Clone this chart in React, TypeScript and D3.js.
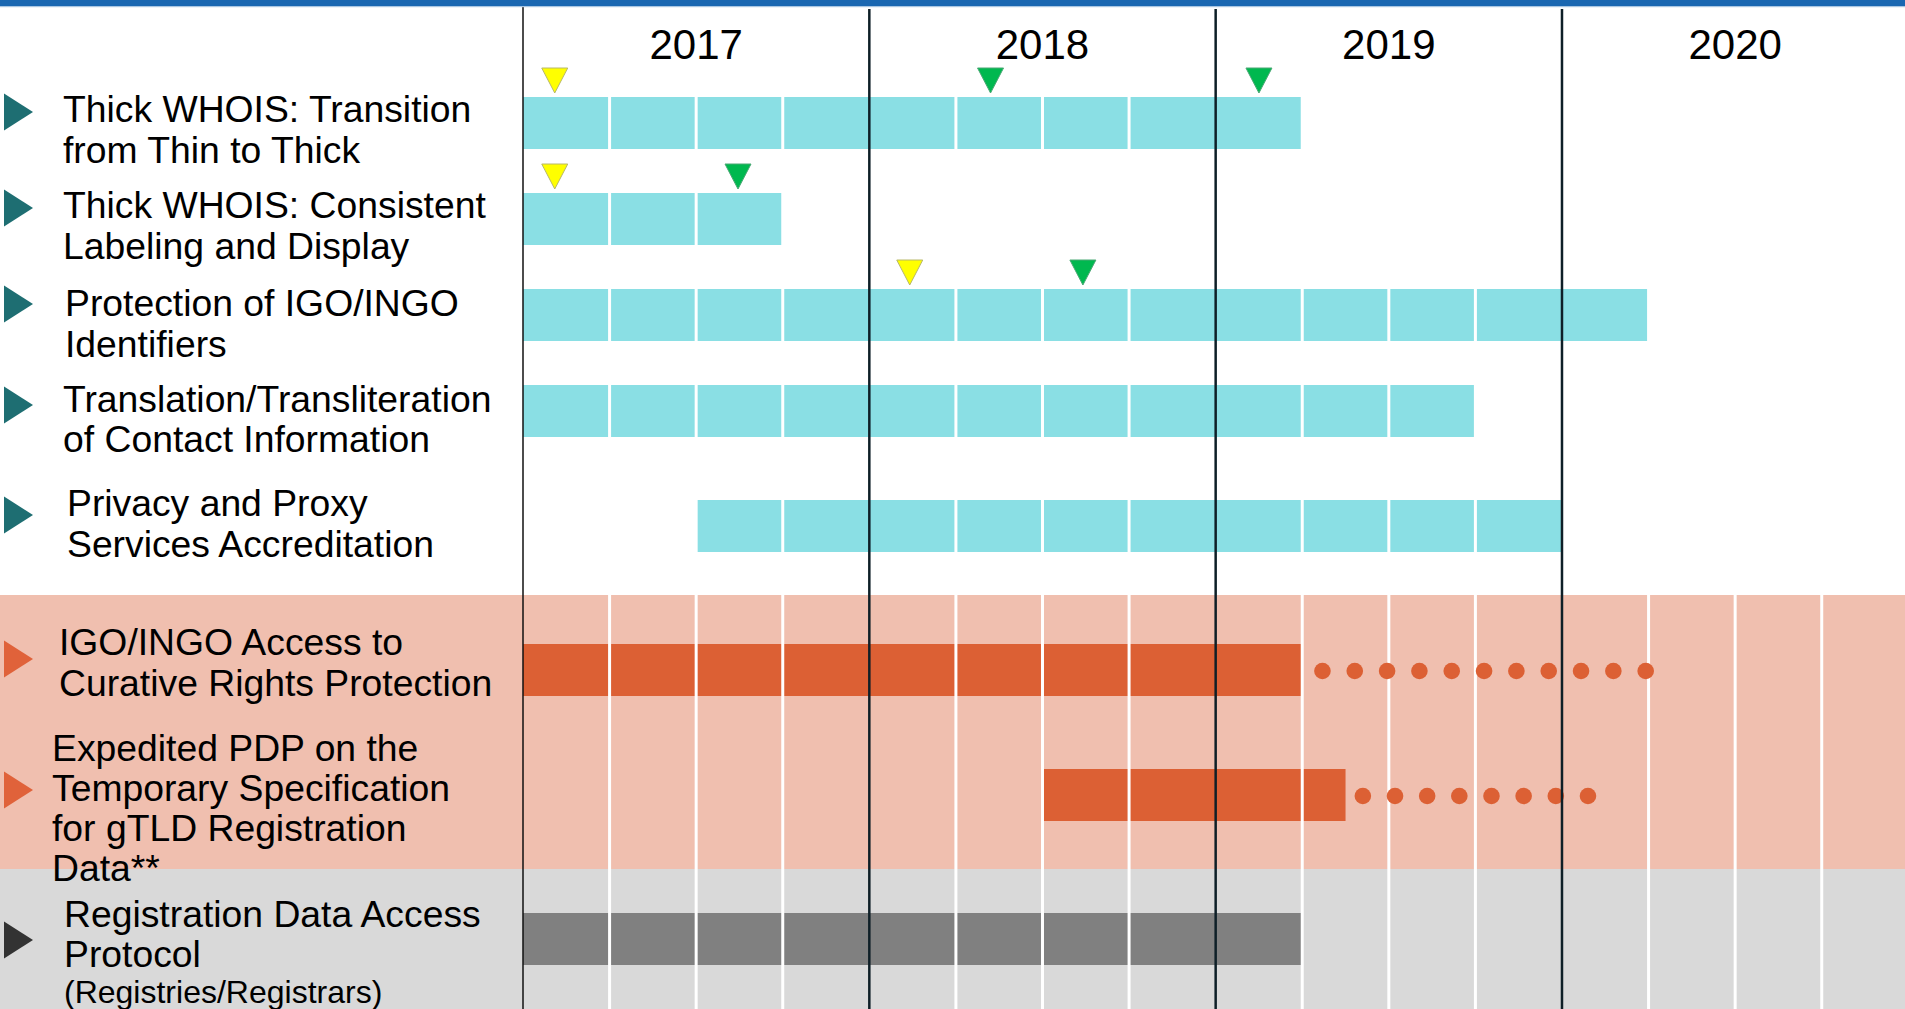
import React from "react";
import * as d3 from "d3";

// ---------- DATA ----------
const years = ["2017", "2018", "2019", "2020"];
const taskLabels: string[][] = [
  ["Thick WHOIS: Transition", "from Thin to Thick"],
  ["Thick WHOIS: Consistent", "Labeling and Display"],
  ["Protection of IGO/INGO", "Identifiers"],
  ["Translation/Transliteration", "of Contact Information"],
  ["Privacy and Proxy", "Services Accreditation"],
  ["IGO/INGO Access to", "Curative Rights Protection"],
  ["Expedited PDP on the", "Temporary Specification", "for gTLD Registration", "Data**"],
  ["Registration Data Access", "Protocol"],
];
const taskSubLabels = ["", "", "", "", "", "", "", "(Registries/Registrars)"];
const taskGroup = ["impl", "impl", "impl", "impl", "impl", "pdp", "pdp", "rdap"];
// months since Jan 2017
const taskStart = [0, 0, 0, 0, 6, 0, 18, 0];
const taskEnd = [27, 9, 39, 33, 36, 27, 28.5, 27];
// dotted continuation (months) and count
const dotFrom = [null, null, null, null, null, 27.7, 29.1, null];
const dotTo = [null, null, null, null, null, 38.9, 36.9, null];
const dotCount = [0, 0, 0, 0, 0, 11, 8, 0];
// milestones
const milestoneRow = [0, 0, 0, 1, 1, 2, 2];
const milestoneMonth = [1.1, 16.2, 25.5, 1.1, 7.45, 13.4, 19.4];
const milestoneType = ["yellow", "green", "green", "yellow", "green", "yellow", "green"];

// ---------- LAYOUT / STYLE ----------
const W = 1905;
const H = 1009;
const chartLeft = 523;
const yearW = 346.33;
const barH = 52;
const rowBarTop = [97, 193, 289, 385, 500, 644, 769, 913];
const labelBaseline = [122, 218, 316, 412, 516, 655, 761, 927];
const labelX = [63, 63, 65, 63, 67, 59, 52, 64];
const lineH = [41, 41, 41, 40, 41, 41, 40, 40];
const bulletCY = [112, 208, 304, 405, 515, 659, 790, 940];

const groupBar: Record<string, string> = { impl: "#8adfe4", pdp: "#dc6034", rdap: "#808080" };
const groupBullet: Record<string, string> = { impl: "#1e6e72", pdp: "#e0623a", rdap: "#333333" };
const mFill: Record<string, string> = { yellow: "#ffff00", green: "#00b84f" };
const mStroke: Record<string, string> = { yellow: "#b8b86a", green: "#4aa874" };
const FONT = "'Liberation Sans', Arial, Helvetica, sans-serif";

export default function App() {
  React.useEffect(() => {
    document.body.style.margin = "0";
    document.body.style.overflow = "hidden";
  }, []);

  const x = d3.scaleLinear().domain([0, 48]).range([chartLeft, chartLeft + 4 * yearW]);
  const quarterTicks = d3.range(3, 48, 3).filter((m) => m % 12 !== 0);
  const yearTicks = d3.range(12, 48, 12);

  const tri = (cx: number, top: number) =>
    d3.line()([
      [cx - 13, top],
      [cx + 13, top],
      [cx, top + 25],
    ]) + "Z";

  return (
    <svg
      width={W}
      height={H}
      style={{ position: "absolute", left: 0, top: 0, display: "block", background: "#fff" }}
      fontFamily={FONT}
    >
      <rect x={0} y={0} width={W} height={H} fill="#ffffff" />
      {/* bands */}
      <rect x={0} y={595} width={W} height={274} fill="#f0bfaf" />
      <rect x={0} y={869} width={W} height={H - 869} fill="#d9d9d9" />

      {/* bars */}
      {taskStart.map((s, i) => (
        <rect
          key={"bar" + i}
          x={x(s)}
          y={rowBarTop[i]}
          width={x(taskEnd[i]) - x(s)}
          height={barH}
          fill={groupBar[taskGroup[i]]}
        />
      ))}

      {/* quarter white lines */}
      {quarterTicks.map((m) => (
        <line key={"q" + m} x1={x(m)} x2={x(m)} y1={7} y2={H} stroke="#ffffff" strokeWidth={3} />
      ))}

      {/* dotted continuation */}
      {dotCount.map((n, i) =>
        n > 0
          ? d3.range(n).map((k) => {
              const m = (dotFrom[i] as number) + ((dotTo[i] as number) - (dotFrom[i] as number)) * (k / (n - 1));
              return (
                <circle
                  key={"d" + i + "-" + k}
                  cx={x(m)}
                  cy={rowBarTop[i] + barH / 2 + 1}
                  r={8.3}
                  fill="#dc6034"
                />
              );
            })
          : null
      )}

      {/* year lines */}
      {yearTicks.map((m) => (
        <line key={"y" + m} x1={x(m)} x2={x(m)} y1={9} y2={H} stroke="#0e1f27" strokeWidth={2.5} />
      ))}
      <line x1={x(0)} x2={x(0)} y1={7} y2={H} stroke="#111" strokeWidth={1.5} />

      {/* milestones */}
      {milestoneMonth.map((m, i) => (
        <path
          key={"ms" + i}
          d={tri(x(m), rowBarTop[milestoneRow[i]] - 29)}
          fill={mFill[milestoneType[i]]}
          stroke={mStroke[milestoneType[i]]}
          strokeWidth={1}
          strokeLinejoin="round"
        />
      ))}

      {/* year labels */}
      {years.map((yr, i) => (
        <text key={yr} x={x(i * 12 + 6)} y={59} textAnchor="middle" fontSize={42} fill="#000">
          {yr}
        </text>
      ))}

      {/* left labels */}
      {taskLabels.map((lines, i) => (
        <g key={"lab" + i}>
          <path
            d={
              d3.line()([
                [4, bulletCY[i] - 18.5],
                [33, bulletCY[i]],
                [4, bulletCY[i] + 18.5],
              ]) + "Z"
            }
            fill={groupBullet[taskGroup[i]]}
          />
          <text fontSize={37.3} fill="#000">
            {lines.map((ln, j) => (
              <tspan key={j} x={labelX[i]} y={labelBaseline[i] + j * lineH[i]}>
                {ln}
              </tspan>
            ))}
          </text>
          {taskSubLabels[i] ? (
            <text
              x={labelX[i]}
              y={labelBaseline[i] + lines.length * lineH[i] - 4}
              fontSize={32}
              fill="#000"
            >
              {taskSubLabels[i]}
            </text>
          ) : null}
        </g>
      ))}

      {/* top band */}
      <rect x={0} y={0} width={W} height={6} fill="#1a67b1" />
      <rect x={0} y={6} width={W} height={1.2} fill="#a9c6e2" />
    </svg>
  );
}
